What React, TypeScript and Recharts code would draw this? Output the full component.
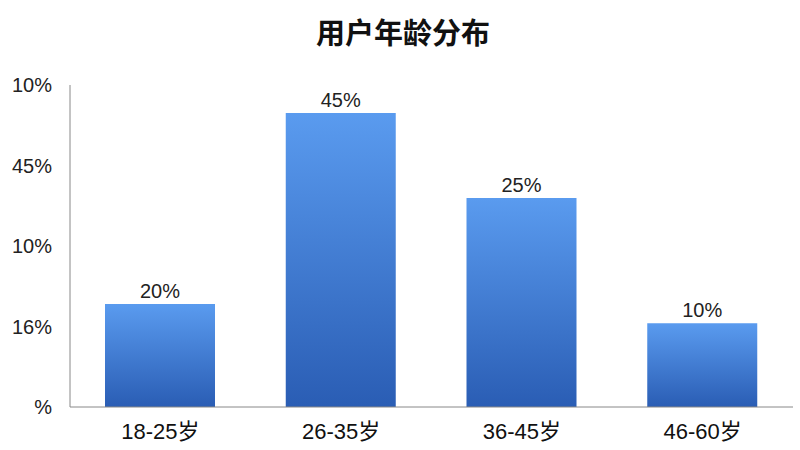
import { BarChart, Bar, XAxis, YAxis, LabelList } from 'recharts'

// 年龄段
const ageGroups = ['18-25岁', '26-35岁', '36-45岁', '46-60岁']
// bar heights (0..100 scale)
const barValues = [32, 91.3, 64.9, 26]
// labels printed above each bar
const valueLabels = ['20%', '45%', '25%', '10%']
// y axis ticks and the (odd) labels shown on them
const yTicks = [0, 25, 50, 75, 100]
const yTickLabels = ['%', '16%', '10%', '45%', '10%']

const data = ageGroups.map((name, i) => ({
  name,
  value: barValues[i],
  label: valueLabels[i],
}))

const FONT = '"Liberation Sans", Arial, "Noto Sans CJK SC", sans-serif'

export default function App() {
  return (
    <div
      style={{
        position: 'absolute',
        left: 0,
        top: 0,
        width: 800,
        height: 450,
        background: '#fff',
        fontFamily: FONT,
      }}
    >
      <div
        style={{
          position: 'absolute',
          top: 12,
          left: 0,
          width: 806,
          textAlign: 'center',
          fontSize: 29,
          fontWeight: 700,
          color: '#111',
          fontFamily: '"Noto Sans CJK SC", sans-serif',
          lineHeight: '38px',
        }}
      >
        用户年龄分布
      </div>
      <BarChart
        width={800}
        height={450}
        data={data}
        margin={{ top: 85, right: 7, bottom: 0, left: 0 }}
      >
        <defs>
          <linearGradient id="barFill" x1="0" y1="0" x2="0" y2="1">
            <stop offset="0%" stopColor="#5a9bef" />
            <stop offset="100%" stopColor="#2a5db4" />
          </linearGradient>
        </defs>
        <XAxis
          dataKey="name"
          height={43}
          axisLine={{ stroke: '#888' }}
          tickLine={false}
          tickMargin={10}
          tick={{ fontSize: 22, fill: '#111', fontFamily: FONT }}
        />
        <YAxis
          width={70}
          domain={[0, 100]}
          ticks={yTicks}
          interval={0}
          axisLine={{ stroke: '#888' }}
          tickLine={false}
          tickMargin={12}
          tickFormatter={(v: number) => yTickLabels[yTicks.indexOf(v)] ?? ''}
          tick={{ fontSize: 20, fill: '#222', fontFamily: FONT }}
        />
        <Bar dataKey="value" fill="url(#barFill)" barSize={110} isAnimationActive={false}>
          <LabelList
            dataKey="label"
            position="top"
            offset={6}
            style={{ fontSize: 20, fill: '#222', fontFamily: FONT }}
          />
        </Bar>
      </BarChart>
    </div>
  )
}
